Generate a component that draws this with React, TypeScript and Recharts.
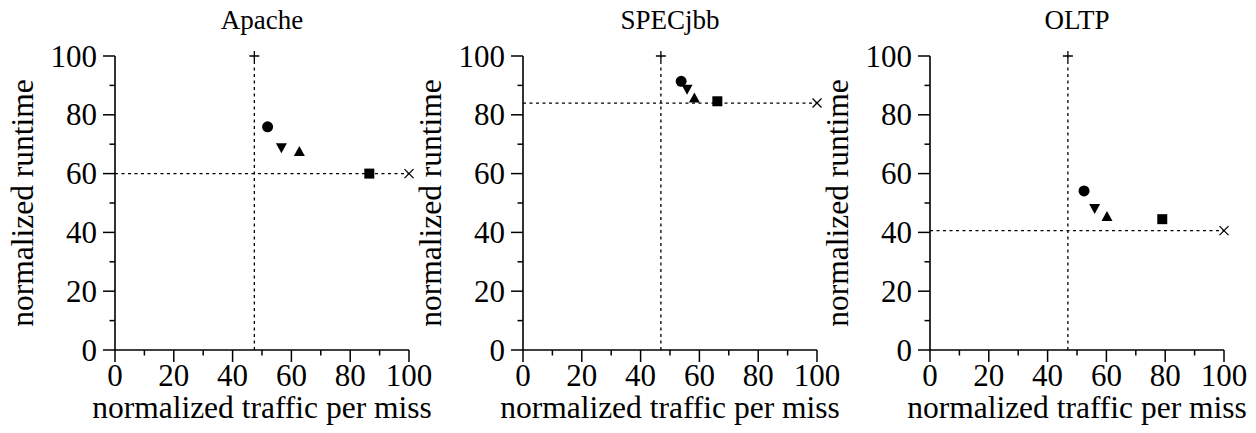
import { ScatterChart, Scatter, XAxis, YAxis, ReferenceLine, Label } from 'recharts';

const BENCHMARKS = ['Apache', 'SPECjbb', 'OLTP'];
// dotted baselines: "+" sits on top of the vertical one, "×" at the end of the horizontal one
const BASE_TRAFFIC = [47.4, 46.9, 46.9];
const BASE_RUNTIME = [60.0, 84.0, 40.6];
const CIRCLE_PTS = [
  { x: 51.9, y: 75.9 },
  { x: 53.8, y: 91.4 },
  { x: 52.4, y: 54.1 },
];
const DOWN_TRI_PTS = [
  { x: 56.6, y: 68.6 },
  { x: 55.8, y: 88.5 },
  { x: 56.0, y: 48.0 },
];
const UP_TRI_PTS = [
  { x: 62.7, y: 67.7 },
  { x: 58.3, y: 85.9 },
  { x: 60.2, y: 45.6 },
];
const SQUARE_PTS = [
  { x: 86.5, y: 60.0 },
  { x: 66.1, y: 84.6 },
  { x: 79.0, y: 44.5 },
];
const TICKS = [0, 10, 20, 30, 40, 50, 60, 70, 80, 90, 100];
const PANEL_LEFT = [0, 408, 815];

const FONT = '"Liberation Serif", "Times New Roman", serif';
const INK = '#000';

type Kind = 'circle' | 'down' | 'up' | 'square' | 'plus' | 'cross';

function Marker({ cx, cy, kind }: { cx: number; cy: number; kind: Kind }) {
  if (cx == null || cy == null) return null;
  switch (kind) {
    case 'circle':
      return <circle cx={cx} cy={cy} r={5.5} fill={INK} />;
    case 'down':
      return <path d={`M${cx - 5.5},${cy - 5} L${cx + 5.5},${cy - 5} L${cx},${cy + 5} Z`} fill={INK} />;
    case 'up':
      return <path d={`M${cx - 5.5},${cy + 5} L${cx + 5.5},${cy + 5} L${cx},${cy - 5} Z`} fill={INK} />;
    case 'square':
      return <rect x={cx - 5} y={cy - 5} width={10} height={10} fill={INK} />;
    case 'plus':
      return (
        <path d={`M${cx - 5},${cy} L${cx + 5},${cy} M${cx},${cy - 5} L${cx},${cy + 5}`} stroke={INK} strokeWidth={1.3} />
      );
    case 'cross':
      return (
        <path
          d={`M${cx - 4.5},${cy - 4.5} L${cx + 4.5},${cy + 4.5} M${cx - 4.5},${cy + 4.5} L${cx + 4.5},${cy - 4.5}`}
          stroke={INK}
          strokeWidth={1.3}
        />
      );
  }
  return null;
}

const shapeOf = (kind: Kind) => (p: any) => <Marker cx={p.cx} cy={p.cy} kind={kind} />;

function XTick({ x, y, payload }: any) {
  const major = payload.value % 20 === 0;
  return (
    <g>
      <line x1={x} y1={y} x2={x} y2={y + (major ? 12 : 5.5)} stroke={INK} strokeWidth={1.5} />
      {major && (
        <text x={x} y={y + 36} textAnchor="middle" fontFamily={FONT} fontSize={31} fill={INK}>
          {payload.value}
        </text>
      )}
    </g>
  );
}

function YTick({ x, y, payload }: any) {
  const major = payload.value % 20 === 0;
  return (
    <g>
      <line x1={x - (major ? 12 : 5.5)} y1={y} x2={x} y2={y} stroke={INK} strokeWidth={1.5} />
      {major && (
        <text x={x - 18} y={y + 10.5} textAnchor="end" fontFamily={FONT} fontSize={31} fill={INK}>
          {payload.value}
        </text>
      )}
    </g>
  );
}

function Panel({ i }: { i: number }) {
  return (
    <div style={{ position: 'absolute', left: PANEL_LEFT[i], top: 0, width: 440, height: 433 }}>
      <div
        style={{
          position: 'absolute',
          left: 115,
          width: 294,
          top: 7,
          textAlign: 'center',
          fontFamily: FONT,
          fontSize: 27,
          lineHeight: '27px',
          color: INK,
        }}
      >
        {BENCHMARKS[i]}
      </div>
      <ScatterChart width={440} height={433} margin={{ top: 56, right: 31, bottom: 0, left: 0 }}>
        <XAxis
          type="number"
          dataKey="x"
          domain={[0, 100]}
          ticks={TICKS}
          interval={0}
          height={83}
          tickSize={0}
          tickMargin={0}
          tickLine={false}
          tick={<XTick />}
          axisLine={{ stroke: INK, strokeWidth: 1.6 }}
        >
          <Label
            content={(p: any) => {
              const vb = p.viewBox;
              return (
                <text x={vb.x + vb.width / 2} y={vb.y + 68} textAnchor="middle" fontFamily={FONT} fontSize={31.5} fill={INK}>
                  normalized traffic per miss
                </text>
              );
            }}
          />
        </XAxis>
        <YAxis
          type="number"
          dataKey="y"
          domain={[0, 100]}
          ticks={TICKS}
          interval={0}
          width={115}
          tickSize={0}
          tickMargin={0}
          tickLine={false}
          tick={<YTick />}
          axisLine={{ stroke: INK, strokeWidth: 1.6 }}
        >
          <Label
            content={(p: any) => {
              const vb = p.viewBox;
              const lx = vb.x + 33;
              const ly = vb.y + vb.height / 2;
              return (
                <text
                  x={lx}
                  y={ly}
                  transform={`rotate(-90, ${lx}, ${ly})`}
                  textAnchor="middle"
                  fontFamily={FONT}
                  fontSize={31.5}
                  fill={INK}
                >
                  normalized runtime
                </text>
              );
            }}
          />
        </YAxis>
        <ReferenceLine x={BASE_TRAFFIC[i]} stroke={INK} strokeWidth={1.3} strokeDasharray="3 3.5" />
        <ReferenceLine y={BASE_RUNTIME[i]} stroke={INK} strokeWidth={1.3} strokeDasharray="3 3.5" />
        <Scatter data={[{ x: BASE_TRAFFIC[i], y: 100 }]} shape={shapeOf('plus')} isAnimationActive={false} />
        <Scatter data={[{ x: 100, y: BASE_RUNTIME[i] }]} shape={shapeOf('cross')} isAnimationActive={false} />
        <Scatter data={[CIRCLE_PTS[i]]} shape={shapeOf('circle')} isAnimationActive={false} />
        <Scatter data={[DOWN_TRI_PTS[i]]} shape={shapeOf('down')} isAnimationActive={false} />
        <Scatter data={[UP_TRI_PTS[i]]} shape={shapeOf('up')} isAnimationActive={false} />
        <Scatter data={[SQUARE_PTS[i]]} shape={shapeOf('square')} isAnimationActive={false} />
      </ScatterChart>
    </div>
  );
}

export default function App() {
  return (
    <div style={{ position: 'absolute', left: 0, top: 0, width: 1256, height: 433, background: '#fff' }}>
      {BENCHMARKS.map((_, i) => (
        <Panel key={i} i={i} />
      ))}
    </div>
  );
}
